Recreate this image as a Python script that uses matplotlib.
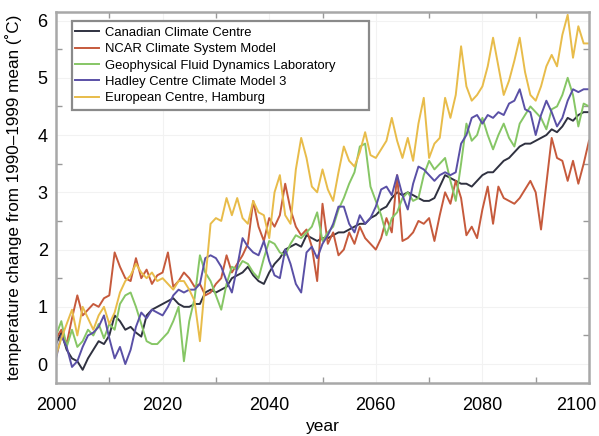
import matplotlib
matplotlib.use("Agg")
import matplotlib.pyplot as plt
import matplotlib.transforms as mtransforms
from matplotlib.patches import Rectangle
import numpy as np

plt.rcParams['font.family'] = ['Liberation Sans', 'DejaVu Sans']

years = np.arange(2000, 2101)

canadian = [
    0.35, 0.55, 0.25, 0.10, 0.05, -0.10, 0.10, 0.25, 0.40, 0.35,
    0.50, 0.85, 0.75, 0.60, 0.65, 0.55, 0.48, 0.85, 0.95, 1.00,
    1.05, 1.10, 1.15, 1.05, 1.00, 1.00, 1.05, 1.05, 1.25, 1.30,
    1.25, 1.30, 1.35, 1.50, 1.55, 1.60, 1.70, 1.55, 1.45, 1.40,
    1.60, 1.75, 1.85, 2.00, 2.05, 2.10, 2.05, 2.25, 2.20, 2.15,
    2.20, 2.20, 2.25, 2.30, 2.30, 2.35, 2.40, 2.45, 2.45, 2.55,
    2.60, 2.70, 2.75, 2.90, 3.00, 2.95, 3.00, 2.95, 2.90, 2.85,
    2.85, 2.90, 3.10, 3.30, 3.25, 3.20, 3.15, 3.15, 3.10, 3.20,
    3.30, 3.35, 3.35, 3.45, 3.55, 3.60, 3.70, 3.80, 3.85, 3.85,
    3.90, 3.95, 4.00, 4.10, 4.05, 4.15, 4.30, 4.25, 4.35, 4.40,
    4.40,
]
ncar = [
    0.45, 0.60, 0.35, 0.80, 1.20, 0.85, 0.95, 1.05, 1.00, 1.15,
    1.20, 1.95, 1.70, 1.50, 1.45, 1.85, 1.50, 1.65, 1.40, 1.55,
    1.60, 1.95, 1.35, 1.45, 1.60, 1.50, 1.35, 1.40, 1.20, 1.25,
    1.40, 1.50, 1.90, 1.60, 1.75, 1.90, 2.10, 2.85, 2.40, 2.15,
    2.55, 2.40, 2.60, 3.15, 2.70, 2.40, 2.25, 2.35, 2.05, 1.45,
    2.80, 2.10, 2.30, 1.90, 2.00, 2.30, 2.10, 2.40, 2.20, 2.10,
    2.00, 2.20, 2.55, 2.30, 3.30, 2.15, 2.20, 2.30, 2.50, 2.45,
    2.55, 2.15, 2.60, 3.00, 2.80, 3.20, 2.90, 2.25, 2.40, 2.20,
    2.70, 3.10, 2.45, 3.10, 2.90, 2.85, 2.80, 2.90, 3.05, 3.20,
    3.00, 2.35, 3.15, 3.95, 3.60, 3.55, 3.20, 3.55, 3.15, 3.50,
    3.90,
]
gfdl = [
    0.50, 0.75, 0.30, 0.60, 0.30, 0.40, 0.60, 0.50, 0.70, 0.45,
    0.70, 0.60, 1.05, 1.20, 1.25, 1.00, 0.70, 0.40, 0.35, 0.35,
    0.45, 0.55, 0.75, 1.00, 0.05, 0.75, 1.15, 1.90, 1.60, 1.45,
    1.20, 0.95, 1.40, 1.70, 1.65, 1.80, 1.75, 1.60, 1.50, 1.85,
    2.15, 2.10, 1.95, 1.90, 2.10, 2.25, 2.20, 2.30, 2.40, 2.65,
    2.15, 2.30, 2.40, 2.70, 2.90, 3.15, 3.35, 3.80, 3.85, 3.10,
    2.85, 2.60, 2.25, 2.55, 2.65, 2.90, 3.00, 2.85, 2.90, 3.30,
    3.55, 3.40, 3.50, 3.60, 3.20, 2.85, 3.50, 4.20, 3.90, 4.00,
    4.30, 4.00, 3.75, 4.00, 4.20, 3.95, 3.80, 4.20, 4.35, 4.50,
    4.40, 4.30, 4.10, 4.45, 4.50, 4.70, 5.00, 4.70, 4.15, 4.55,
    4.50,
]
hadley = [
    0.10, 0.50, 0.30, -0.05, 0.05, 0.30, 0.50, 0.55, 0.65, 0.85,
    0.45, 0.10, 0.30, 0.00, 0.25, 0.65, 0.90, 0.80, 0.95, 0.90,
    0.85, 1.00, 1.20, 1.30, 1.25, 1.30, 1.30, 1.40, 1.85, 1.90,
    1.85, 1.70, 1.45, 1.25, 1.70, 2.20, 2.05, 1.95, 1.90, 2.15,
    1.80, 1.55, 1.50, 2.00, 1.75, 1.40, 1.25, 1.95, 2.05, 1.85,
    2.10, 2.25, 2.45, 2.75, 2.75, 2.45, 2.30, 2.60, 2.45, 2.55,
    2.75, 3.05, 3.10, 2.95, 3.30, 2.95, 2.70, 3.15, 3.45, 3.40,
    3.30, 3.20, 3.30, 3.35, 3.30, 3.35, 3.85, 4.00, 4.30, 4.35,
    4.20, 4.35, 4.30, 4.40, 4.35, 4.55, 4.60, 4.80, 4.45, 4.40,
    4.00, 4.35, 4.60, 4.40, 4.15, 4.30, 4.60, 4.80, 4.75, 4.80,
    4.80,
]
hamburg = [
    0.15, 0.45, 0.70, 0.95, 0.50, 1.00, 0.80, 0.60, 0.85, 1.00,
    0.70, 0.90, 1.25, 1.45, 1.55, 1.75, 1.60, 1.50, 1.60, 1.45,
    1.50, 1.40, 1.30, 1.45, 1.45, 1.30, 1.10, 0.40, 1.45, 2.45,
    2.55, 2.50, 2.90, 2.60, 2.90, 2.55, 2.45, 2.85, 2.65, 2.60,
    2.20, 3.00, 3.30, 2.60, 2.45, 3.40, 3.95, 3.60, 3.10, 3.00,
    3.40, 3.05, 2.85, 3.35, 3.80, 3.55, 3.45, 3.70, 4.05, 3.65,
    3.60, 3.75, 3.90, 4.30, 3.90, 3.60, 3.95, 3.55, 4.20, 4.65,
    3.60, 3.85, 3.95, 4.65, 4.30, 4.70, 5.55, 4.85, 4.60, 4.70,
    4.85, 5.20, 5.70, 5.20, 4.70, 4.95, 5.30, 5.70, 5.10, 4.70,
    4.60, 4.85, 5.20, 5.40, 5.20, 5.75, 6.10, 5.35, 5.90, 5.60,
    5.60,
]

series = [
    ("Canadian Climate Centre", canadian, "#2f3140"),
    ("NCAR Climate System Model", ncar, "#c65a3c"),
    ("Geophysical Fluid Dynamics Laboratory", gfdl, "#86c665"),
    ("Hadley Centre Climate Model 3", hadley, "#5a50a6"),
    ("European Centre, Hamburg", hamburg, "#e8bc4a"),
]

fig = plt.figure(figsize=(5.99, 4.36), dpi=100)
ax = fig.add_axes([0.0935, 0.1216, 0.8898, 0.851])

for label, vals, color in series:
    ax.plot(years, vals, color=color, linewidth=1.4, label=label)

ax.set_xlim(2000, 2100)
ax.set_ylim(-0.33, 6.15)
ax.set_xticks(np.arange(2000, 2101, 20))
ax.set_xticks(np.arange(2010, 2100, 20), minor=True)
ax.set_yticks(np.arange(0, 7, 1))
ax.set_yticks(np.arange(0.5, 6, 1), minor=True)
ax.tick_params(which='major', length=0, labelsize=13)
ax.tick_params(axis='x', which='major', pad=10)
ax.tick_params(axis='y', which='major', pad=6)
ax.tick_params(which='minor', direction='in', length=4, width=1,
               color='#999999', top=True, right=True)
ax.grid(True, which='major', color='#f2f2f2', linewidth=0.8)
for sp in ax.spines.values():
    sp.set_color('#a8a8a8')
    sp.set_linewidth(1.8)

# the last year label sits a little left, inside the picture
last = ax.get_xticklabels()[-1]
last.set_transform(last.get_transform() +
                   mtransforms.ScaledTranslation(-0.13, 0, fig.dpi_scale_trans))

ax.set_xlabel("year", fontsize=12.5, labelpad=4)
ax.set_ylabel("temperature change from 1990\u20131999 mean (\u02daC)",
              fontsize=12.3, labelpad=11)

# legend box, wider than its text as in the original
box = Rectangle((0.030, 0.7358), 0.557, 0.2399, transform=ax.transAxes,
                facecolor='white', edgecolor='#8a8a8a', linewidth=1.6,
                zorder=4)
ax.add_patch(box)
leg = ax.legend(loc='upper left', bbox_to_anchor=(0.030, 0.9677),
                borderaxespad=0, fontsize=9.4, handlelength=1.9,
                handletextpad=0.45, labelspacing=0.33, frameon=False,
                borderpad=0.2)
leg.set_zorder(5)

fig.savefig("out.png", dpi=100)
